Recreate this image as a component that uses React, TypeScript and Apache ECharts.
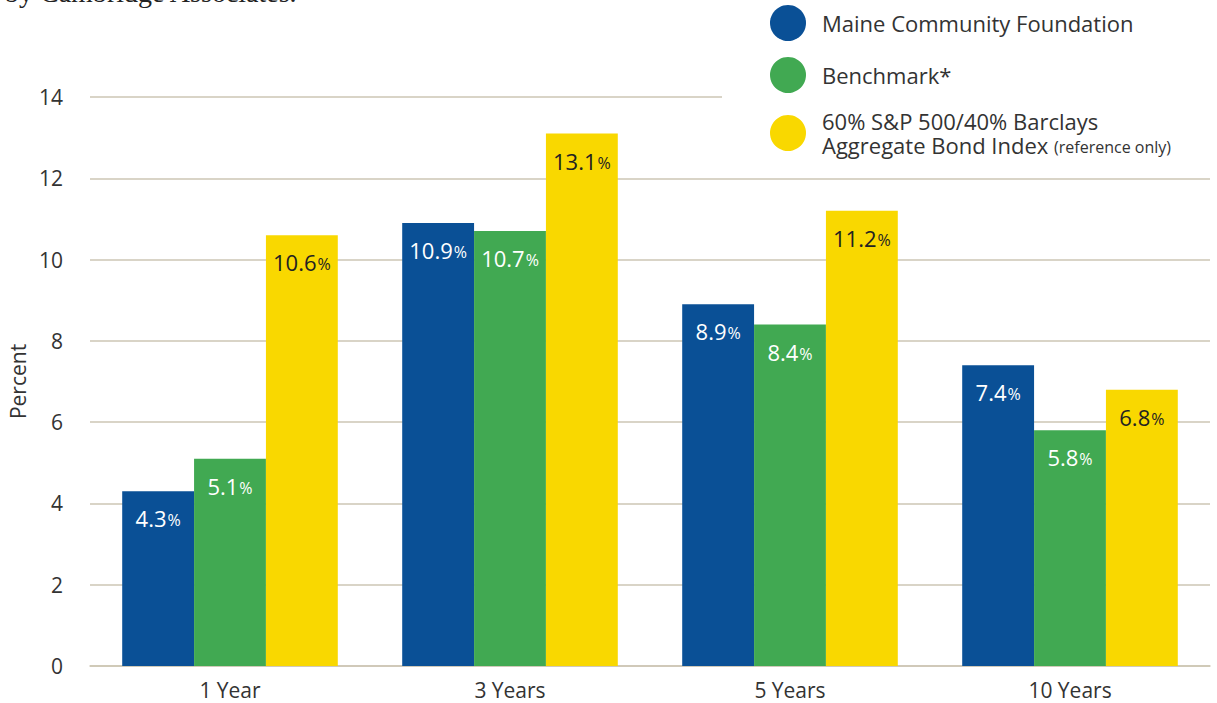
import React, { useEffect, useRef } from "react";
import * as echarts from "echarts";

const categories = ["1 Year", "3 Years", "5 Years", "10 Years"];
const seriesNames = [
  "Maine Community Foundation",
  "Benchmark*",
  "60% S&P 500/40% Barclays\nAggregate Bond Index {s|(reference only)}",
];
const mcfValues = [4.3, 10.9, 8.9, 7.4];
const benchmarkValues = [5.1, 10.7, 8.4, 5.8];
const indexValues = [10.6, 13.1, 11.2, 6.8];
const yTicks = { min: 0, max: 14, interval: 2 };

const COLORS = ["#0a5096", "#41a952", "#f9d800"];
const FONT = "'Open Sans', 'Noto Sans', sans-serif";

export default function App() {
  const ref = useRef<HTMLDivElement>(null);
  useEffect(() => {
    if (!ref.current) return;
    const chart = echarts.init(ref.current, null, { renderer: "svg" });
    const mkSeries = (name: string, data: number[], color: string, labelColor: string) => ({
      name,
      type: "bar",
      data,
      barGap: "0%",
      barCategoryGap: "23%",
      itemStyle: { color },
      label: {
        show: true,
        position: "insideTop",
        distance: 16,
        formatter: (p: any) => `{v|${p.value.toFixed(1)}}{p|%}`,
        rich: {
          v: { fontSize: 22, color: labelColor, fontFamily: FONT, fontWeight: 400 },
          p: { fontSize: 16, color: labelColor, fontFamily: FONT, padding: [4, 0, 0, 1] },
        },
      },
    });
    chart.setOption({
      animation: false,
      textStyle: { fontFamily: FONT },
      grid: { left: 90, right: 7, top: 97, bottom: 37, outerBoundsMode: "none", containLabel: false },
      graphic: [
        {
          type: "text",
          left: 5,
          top: -22,
          style: {
            text: "by Cambridge Associates.",
            font: "28px 'Liberation Serif', 'DejaVu Serif', serif",
            fill: "#222",
          },
        },
      ],
      legend: {
        orient: "vertical",
        left: 722,
        top: 0,
        padding: [5, 60, 12, 48],
        backgroundColor: "#fff",
        icon: "circle",
        itemWidth: 36,
        itemHeight: 36,
        itemGap: 16,
        selectedMode: false,
        textStyle: {
          fontSize: 22,
          color: "#333",
          fontFamily: FONT,
          lineHeight: 24,
          padding: [0, 0, 0, 11],
          rich: {
            s: { fontSize: 16, color: "#333", fontFamily: FONT, lineHeight: 24, padding: [4, 0, 0, 0] },
          },
        },
        data: seriesNames,
      },
      xAxis: {
        type: "category",
        data: categories,
        axisLine: { show: true, lineStyle: { color: "#cdc6b4", width: 1.5 } },
        axisTick: { show: false },
        axisLabel: { fontSize: 21, color: "#333", margin: 13, fontFamily: FONT },
      },
      yAxis: {
        type: "value",
        min: yTicks.min,
        max: yTicks.max,
        interval: yTicks.interval,
        name: "Percent",
        nameLocation: "middle",
        nameRotate: 90,
        nameGap: 62,
        nameTextStyle: { fontSize: 21, color: "#333", fontFamily: FONT },
        axisLine: { show: false },
        axisTick: { show: false },
        axisLabel: { fontSize: 21, color: "#333", margin: 27, fontFamily: FONT },
        splitLine: { lineStyle: { color: "#cdc6b4", width: 1.5 } },
      },
      series: [
        mkSeries(seriesNames[0], mcfValues, COLORS[0], "#fff"),
        mkSeries(seriesNames[1], benchmarkValues, COLORS[1], "#fff"),
        mkSeries(seriesNames[2], indexValues, COLORS[2], "#222"),
      ],
    });
    return () => chart.dispose();
  }, []);
  return (
    <div
      ref={ref}
      style={{ position: "fixed", left: 0, top: 0, width: 1217, height: 703, background: "#fff" }}
    />
  );
}
